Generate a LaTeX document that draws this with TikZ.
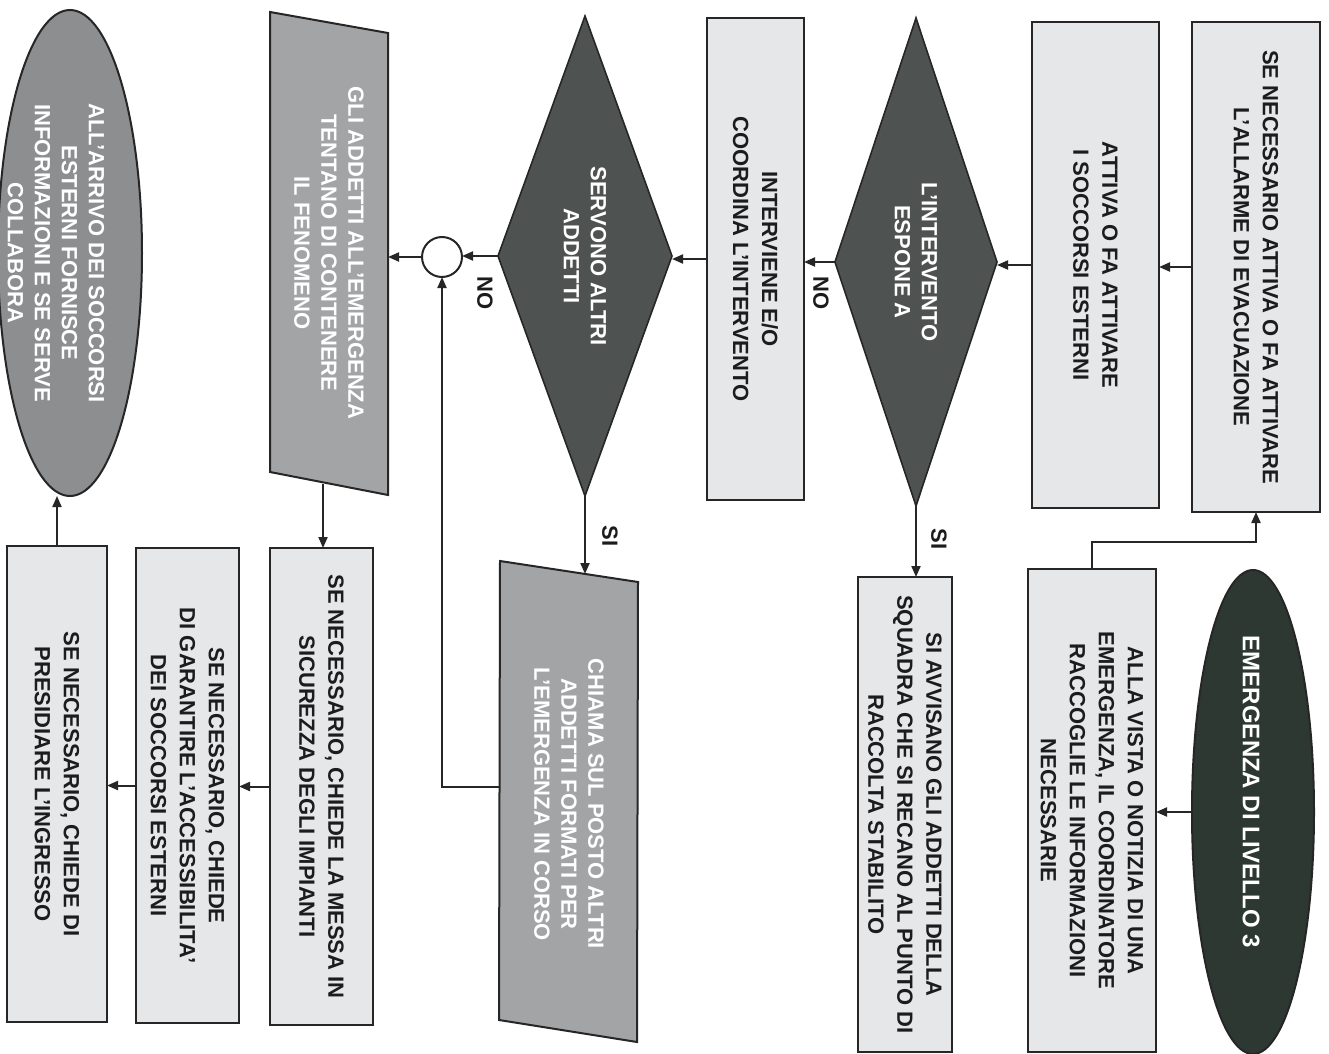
\documentclass[tikz,border=0pt]{standalone}
\usepackage{fontspec}
\setmainfont{Liberation Sans}
\usetikzlibrary{shapes.geometric,arrows.meta,calc}
\definecolor{boxfill}{HTML}{E5E7E9}
\definecolor{edge}{HTML}{262626}
\definecolor{darkell}{HTML}{2D3833}
\definecolor{diafill}{HTML}{4E5351}
\definecolor{parafill}{HTML}{A2A4A5}
\definecolor{ellfill}{HTML}{8C8E8F}
\definecolor{ink}{HTML}{1C1C1C}
\begin{document}
\begin{tikzpicture}[x=0.5pt,y=-0.5pt,
  line/.style={draw=edge,line width=1pt},
  arr/.style={line,-{Triangle[length=5.5pt,width=4.5pt]}},
  box/.style={rectangle,draw=edge,line width=1pt,fill=boxfill,rotate=-90,inner sep=0pt,outer sep=0pt,
    align=center,text=ink,font=\bfseries\fontsize{11}{14.5}\selectfont},
  dia/.style={diamond,draw=edge,line width=0.8pt,fill=diafill,rotate=-90,inner sep=0pt,outer sep=0pt,
    shape aspect=3,align=center,text=white,font=\bfseries\fontsize{11}{13.5}\selectfont},
  wtext/.style={rectangle,rotate=-90,inner sep=0pt,outer sep=0pt,align=center,text=white,
    font=\bfseries\fontsize{11}{13.5}\selectfont},
  lbl/.style={rotate=-90,inner sep=0pt,text=ink,font=\bfseries\fontsize{11}{13}\selectfont},
  oval/.style={ellipse,draw=edge,line width=1pt,rotate=-90,inner sep=0pt,outer sep=0pt}
]
\useasboundingbox (0,0) rectangle (1329,1054);
\fill[white] (0,0) rectangle (1329,1054);

% parallelogram outlines
\filldraw[fill=parafill,draw=edge,line width=1pt] (270,12) -- (388,33) -- (388,495) -- (270,472) -- cycle;
\filldraw[fill=parafill,draw=edge,line width=1pt] (500,561) -- (638,582) -- (637,1042) -- (499,1020) -- cycle;

% right column
\node[box,minimum width=245pt,minimum height=64pt] (b3) at (1256,267)
  {SE NECESSARIO ATTIVA O FA ATTIVARE\\L'ALLARME DI EVACUAZIONE};
\node[box,minimum width=243pt,minimum height=63.5pt] (b4) at (1095.5,265)
  {ATTIVA O FA ATTIVARE\\I SOCCORSI ESTERNI};
\node[dia,minimum width=244pt,minimum height=81pt] (d1) at (916,262)
  {L'INTERVENTO\\ESPONE A};
\node[box,minimum width=241pt,minimum height=48.5pt] (b6) at (755.5,259)
  {INTERVIENE E/O\\COORDINA L'INTERVENTO};
\node[dia,minimum width=240pt,minimum height=87pt] (d2) at (585,256)
  {SERVONO ALTRI\\ADDETTI};
\node[circle,draw=edge,line width=1pt,fill=white,minimum size=20pt,inner sep=0pt,outer sep=0pt] (c) at (442,257) {};
\node[wtext,minimum width=231pt,minimum height=59pt] (p1) at (329,253)
  {GLI ADDETTI ALL'EMERGENZA\\TENTANO DI CONTENERE\\IL FENOMENO};
\node[oval,fill=ellfill,minimum width=243pt,minimum height=72pt] (e2) at (70,253) {};
\node[wtext] (e2t) at (56,253)
  {ALL'ARRIVO DEI SOCCORSI\\ESTERNI FORNISCE\\INFORMAZIONI E SE SERVE\\COLLABORA};

% lower row
\node[oval,fill=darkell,minimum width=242pt,minimum height=61pt] (e1) at (1253,812) {};
\node[wtext,font=\bfseries\fontsize{12}{14}\selectfont] (e1t) at (1251,792) {EMERGENZA DI LIVELLO 3};
\node[box,minimum width=241.5pt,minimum height=64pt] (b7) at (1092,810.5)
  {ALLA VISTA O NOTIZIA DI UNA\\EMERGENZA, IL COORDINATORE\\RACCOGLIE LE INFORMAZIONI\\NECESSARIE};
\node[box,minimum width=237.5pt,minimum height=47pt] (b10) at (905,814.5)
  {SI AVVISANO GLI ADDETTI DELLA\\SQUADRA CHE SI RECANO AL PUNTO DI\\RACCOLTA STABILITO};
\node[wtext,minimum width=230pt,minimum height=69pt] (p2) at (569,804)
  {CHIAMA SUL POSTO ALTRI\\ADDETTI FORMATI PER\\L'EMERGENZA IN CORSO};
\node[box,minimum width=238.5pt,minimum height=51.5pt] (b11) at (321.5,786.5)
  {SE NECESSARIO, CHIEDE LA MESSA IN\\SICUREZZA DEGLI IMPIANTI};
\node[box,minimum width=237.5pt,minimum height=51.5pt] (b12) at (187.5,785.5)
  {SE NECESSARIO, CHIEDE\\DI GARANTIRE L'ACCESSIBILITA'\\DEI SOCCORSI ESTERNI};
\node[box,minimum width=238pt,minimum height=50pt] (b13) at (57,784)
  {SE NECESSARIO, CHIEDE DI\\PRESIDIARE L'INGRESSO};

% connectors
\draw[arr] (e1.south) -- (e1.south -| b7.north);
\draw[arr] (b7.west) -- ++(0,-27) -| (b3.east);
\draw[arr] (b3.south) -- (b3.south -| b4.north);
\draw[arr] (b4.south) -- (b4.south -| d1.north);
\draw[arr] (d1.south) -- (d1.south -| b6.north);
\draw[arr] (d1.east) -- (d1.east |- b10.west);
\draw[arr] (b6.south) -- (b6.south -| d2.north);
\draw[arr] (d2.south) -- (d2.south -| c.east);
\draw[arr] (c.west) -- (c.west -| p1.north);
\draw[arr] (d2.east) -- (d2.east |- p2.west);
\draw[arr] ([yshift=8.5pt]p2.south) -| (c.south);
\draw[arr] ([xshift=-3pt]p1.east) -- ([xshift=-3pt]p1.east |- b11.west);
\draw[arr] (b11.south) -- (b11.south -| b12.north);
\draw[arr] (b12.south) -- (b12.south -| b13.north);
\draw[arr] (b13.west) -- (b13.west |- e2.east);

% labels
\node[lbl] (no1) at (821,293) {NO};
\node[lbl] (no2) at (485,293) {NO};
\node[lbl] (si1) at (939,539) {SI};
\node[lbl] (si2) at (610,536) {SI};
\end{tikzpicture}
\end{document}
